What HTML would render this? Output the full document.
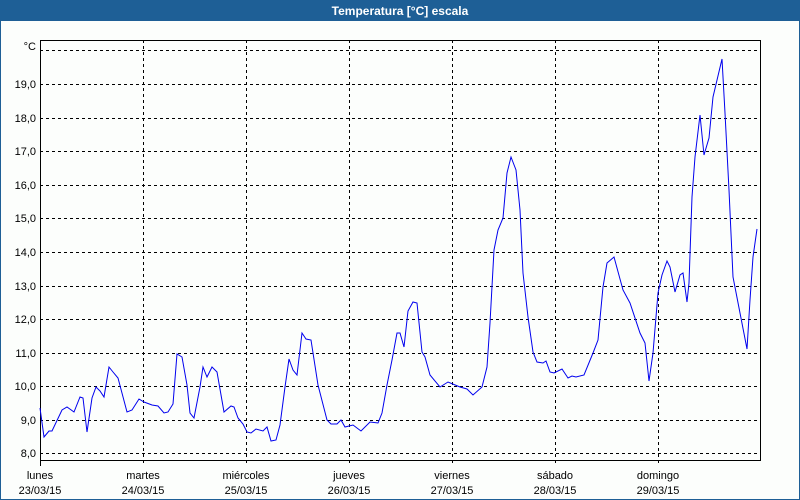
<!DOCTYPE html>
<html><head><meta charset="utf-8"><style>
html,body{margin:0;padding:0;background:#fff}
#c{position:relative;width:798px;height:498px;border:1px solid #1e5f96;background:#fcfefc;overflow:hidden}
#t{position:absolute;left:0;top:0;width:798px;height:20px;background:#1e5f96;color:#fff;font:bold 12px "Liberation Sans",sans-serif;text-align:center;line-height:20px}
svg{position:absolute;left:-1px;top:-1px}
text{font-family:"Liberation Sans",sans-serif;font-size:11px;fill:#000}
</style></head><body><div id="c"><div id="t">Temperatura [°C] escala</div>
<svg width="800" height="500" viewBox="0 0 800 500">
<g stroke="#000" stroke-width="1" stroke-dasharray="3,3" fill="none">
<line x1="40" y1="50.5" x2="760" y2="50.5"/>
<line x1="40" y1="84.5" x2="760" y2="84.5"/>
<line x1="40" y1="118.5" x2="760" y2="118.5"/>
<line x1="40" y1="151.5" x2="760" y2="151.5"/>
<line x1="40" y1="185.5" x2="760" y2="185.5"/>
<line x1="40" y1="218.5" x2="760" y2="218.5"/>
<line x1="40" y1="252.5" x2="760" y2="252.5"/>
<line x1="40" y1="286.5" x2="760" y2="286.5"/>
<line x1="40" y1="319.5" x2="760" y2="319.5"/>
<line x1="40" y1="353.5" x2="760" y2="353.5"/>
<line x1="40" y1="386.5" x2="760" y2="386.5"/>
<line x1="40" y1="420.5" x2="760" y2="420.5"/>
<line x1="40" y1="453.5" x2="760" y2="453.5"/>
<line x1="143.5" y1="40" x2="143.5" y2="466"/>
<line x1="246.5" y1="40" x2="246.5" y2="466"/>
<line x1="349.5" y1="40" x2="349.5" y2="466"/>
<line x1="452.5" y1="40" x2="452.5" y2="466"/>
<line x1="555.5" y1="40" x2="555.5" y2="466"/>
<line x1="658.5" y1="40" x2="658.5" y2="466"/>
</g>
<g stroke="#000" stroke-width="1" fill="none">
<polyline points="40.5,466 40.5,40.5 760.5,40.5 760.5,460.5 40.5,460.5"/>
</g>
<polyline fill="none" stroke="#0000ee" stroke-width="1" points="40,408 44,437 49,431 52,431 62,410 67,407 74,412 80,397 83,398 87,432 92,398 96,387 100,391 104,397 109,367 113,372 118,378 127,412 132,410 139,399 144,402 152,405 158,406 164,413 168,412 173,404 177,354 182,357 187,385 190,413 194,418 200,387 203,367 207,377 212,367 217,372 224,412 231,406 234,407 238,418 243,424 247,432 251,433 256,429 263,431 267,427 271,441 276,440 280,425 285,387 289,359 293,370 297,375 302,333 306,339 311,340 318,385 327,420 331,424 337,424 341,420 345,427 353,425 361,431 370,422 378,423 382,413 387,385 392,360 397,333 400,333 404,347 408,311 413,302 417,303 422,352 425,357 430,375 440,387 448,382 460,387 467,389 473,395 482,387 487,367 490,323 494,250 498,230 503,218 507,173 511,157 516,170 520,210 523,273 528,317 533,352 537,362 543,363 546,361 550,372 554,373 562,369 568,378 572,376 576,377 584,375 593,353 598,340 603,287 607,263 614,257 623,290 630,303 640,333 645,343 649,381 653,353 658,293 662,275 667,261 670,267 675,292 680,275 683,273 687,302 689,283 692,197 695,157 700,115 704,155 709,138 713,97 722,59 725,113 729,190 733,277 740,313 747,349 750,300 753,257 757,229"/>
<g text-anchor="end">
<text x="36" y="50">°C</text>
<text x="36" y="88">19,0</text>
<text x="36" y="122">18,0</text>
<text x="36" y="155">17,0</text>
<text x="36" y="189">16,0</text>
<text x="36" y="222">15,0</text>
<text x="36" y="256">14,0</text>
<text x="36" y="290">13,0</text>
<text x="36" y="323">12,0</text>
<text x="36" y="357">11,0</text>
<text x="36" y="390">10,0</text>
<text x="36" y="424">9,0</text>
<text x="36" y="457">8,0</text>
</g>
<g text-anchor="middle">
<text x="40" y="479">lunes</text><text x="40" y="494">23/03/15</text>
<text x="143" y="479">martes</text><text x="143" y="494">24/03/15</text>
<text x="246" y="479">miércoles</text><text x="246" y="494">25/03/15</text>
<text x="349" y="479">jueves</text><text x="349" y="494">26/03/15</text>
<text x="452" y="479">viernes</text><text x="452" y="494">27/03/15</text>
<text x="555" y="479">sábado</text><text x="555" y="494">28/03/15</text>
<text x="658" y="479">domingo</text><text x="658" y="494">29/03/15</text>
</g>
</svg></div></body></html>
